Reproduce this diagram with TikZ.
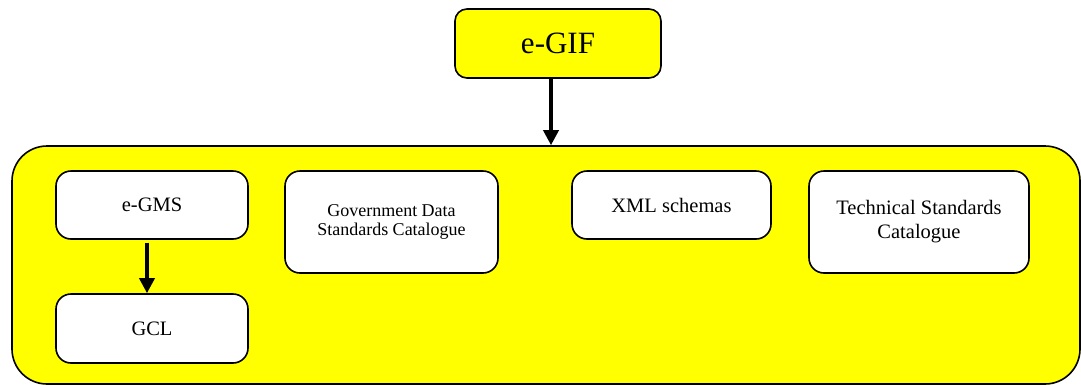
\documentclass[tikz,border=0pt]{standalone}
\usepackage{fontspec}
\setmainfont{Liberation Serif}
\usetikzlibrary{arrows.meta}
\definecolor{framefill}{RGB}{255,255,0}

\begin{document}
\begin{tikzpicture}[
    x=1pt, y=-1pt,
    panel/.style={rectangle, draw, line width=1.6pt, fill=framefill, rounded corners=35pt, inner sep=0pt},
    topbox/.style={rectangle, draw, line width=1.6pt, fill=framefill, rounded corners=12pt, inner sep=0pt,
        minimum width=206pt, minimum height=69pt, font=\fontsize{31}{36}\selectfont},
    item/.style={rectangle, draw, line width=1.6pt, fill=white, rounded corners=15pt, inner sep=0pt,
        align=center, font=\fontsize{20.5}{24}\selectfont},
    link/.style={-{Triangle[width=15pt,length=15pt]}, line width=3.5pt}
]
    \useasboundingbox (0,0) rectangle (1081,384);
    \clip (0,0) rectangle (1081,384);

    % Top node
    \node[topbox] (egif) at (558,43.5) {e-GIF};

    % Framework panel
    \node[panel, minimum width=1068pt, minimum height=238pt] (panel) at (546,265) {};

    % Components
    \node[item, minimum width=192pt, minimum height=68pt] (egms) at (152,205) {e-GMS};
    \node[item, minimum width=192pt, minimum height=69pt] (gcl) at (152,328.5) {GCL};
    \node[item, minimum width=213pt, minimum height=102pt, font=\fontsize{18}{19}\selectfont] (govdata) at (391.5,222)
        {Government Data\\Standards Catalogue};
    \node[item, minimum width=199pt, minimum height=68pt] (xml) at (671.5,205) {XML schemas};
    \node[item, minimum width=220pt, minimum height=102pt] (tsc) at (919,222)
        {Technical Standards\\Catalogue};

    % Arrows
    \draw[link] ([xshift=-7pt]egif.south) -- ([xshift=-7pt]egif.south |- panel.north);
    \draw[link] ([xshift=-5pt,yshift=-3pt]egms.south) -- ([xshift=-5pt]egms.south |- gcl.north);
\end{tikzpicture}
\end{document}
